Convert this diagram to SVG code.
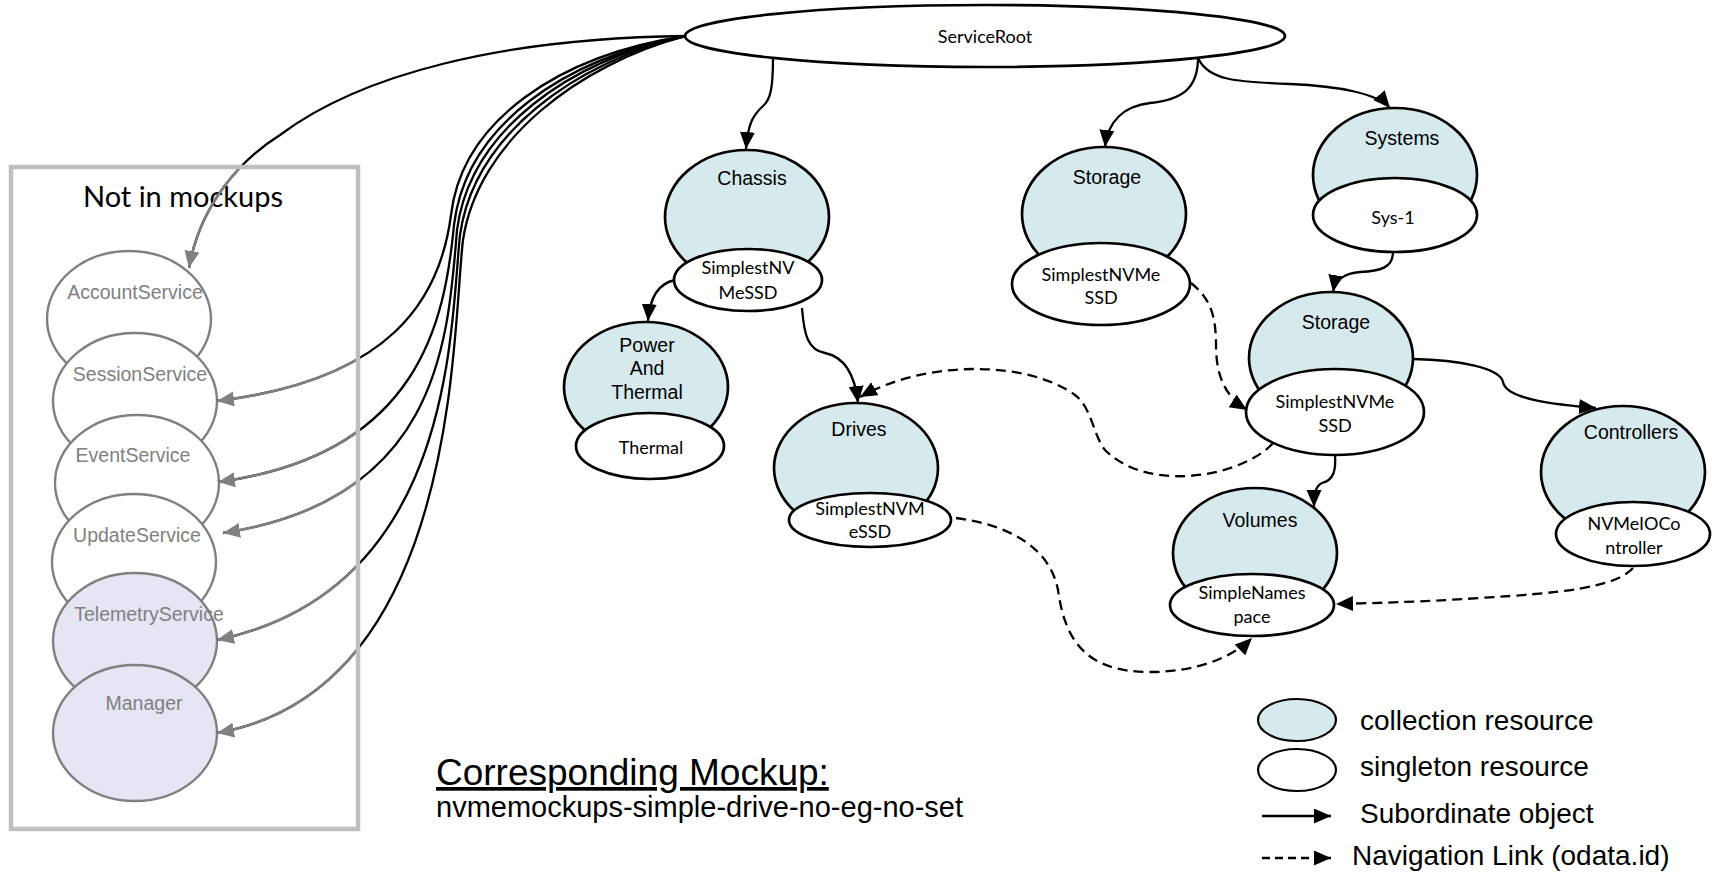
<svg xmlns="http://www.w3.org/2000/svg" width="1712" height="872" viewBox="0 0 1712 872">
<defs>
<style>
.col{fill:#d6eaed;stroke:#000;stroke-width:2.7}
.sgl{fill:#fff;stroke:#000;stroke-width:2.7}
.gw{fill:#fff;stroke:#808080;stroke-width:2.4}
.gl{fill:#e5e5f4;stroke:#808080;stroke-width:2.4}
.ta{font-family:"Liberation Sans",Arial,sans-serif;font-size:19.5px;fill:#000;text-anchor:middle}
.tg{font-family:"Liberation Sans",Arial,sans-serif;font-size:19.5px;fill:#808080;text-anchor:middle}
.tl{font-family:Lato,"Noto Sans",sans-serif;font-size:18px;fill:#000;text-anchor:middle}
.c{fill:none;stroke:#000;stroke-width:2.3}
.d{fill:none;stroke:#000;stroke-width:2.3;stroke-dasharray:10 6}
.g{fill:none;stroke:#808080;stroke-width:2.5}
.lg{font-family:"Liberation Sans",Arial,sans-serif;font-size:28px;fill:#000}
</style>
<marker id="ah" markerUnits="userSpaceOnUse" markerWidth="18" markerHeight="16" refX="17" refY="7.5" orient="auto"><path d="M0,0 L17,7.5 L0,15 z" fill="#000"/></marker>
<marker id="ahg" markerUnits="userSpaceOnUse" markerWidth="18" markerHeight="16" refX="17" refY="7.5" orient="auto"><path d="M0,0 L17,7.5 L0,15 z" fill="#808080"/></marker>
<clipPath id="inbox"><rect x="0" y="168" width="358" height="704"/></clipPath>
</defs>
<rect x="0" y="0" width="1712" height="872" fill="#fff"/>

<g id="box-title">
<text x="183" y="207" style="font-family:Lato,'Noto Sans',sans-serif;font-size:29px;fill:#000;text-anchor:middle">Not in mockups</text>
</g>

<g id="AccountService"><ellipse class="gw" cx="129" cy="319" rx="82" ry="68"/><text class="tg" x="135" y="299">AccountService</text></g>
<g id="SessionService"><ellipse class="gw" cx="135" cy="401" rx="82" ry="68"/><text class="tg" x="140" y="381">SessionService</text></g>
<g id="EventService"><ellipse class="gw" cx="137" cy="483" rx="82" ry="68"/><text class="tg" x="133" y="462">EventService</text></g>
<g id="UpdateService"><ellipse class="gw" cx="134" cy="562" rx="82" ry="68"/><text class="tg" x="137" y="542">UpdateService</text></g>
<g id="TelemetryService"><ellipse class="gl" cx="135" cy="641" rx="82" ry="68"/><text class="tg" x="149" y="621">TelemetryService</text></g>
<g id="Manager"><ellipse class="gl" cx="135" cy="733" rx="82" ry="68"/><text class="tg" x="144" y="710">Manager</text></g>

<g id="ServiceRoot"><ellipse class="sgl" cx="985" cy="36" rx="300" ry="31"/><text class="tl" x="985" y="43">ServiceRoot</text></g>

<g id="Chassis"><ellipse class="col" cx="747" cy="217" rx="82" ry="67"/><text class="ta" x="752" y="185">Chassis</text>
<ellipse class="sgl" cx="748" cy="280" rx="74" ry="31"/><text class="tl" x="748" y="274">SimplestNV</text><text class="tl" x="748" y="299">MeSSD</text></g>

<g id="PowerAndThermal"><ellipse class="col" cx="646" cy="387" rx="82" ry="65"/><text class="ta" x="647" y="352">Power</text><text class="ta" x="647" y="375">And</text><text class="ta" x="647" y="399">Thermal</text>
<ellipse class="sgl" cx="650" cy="446" rx="74" ry="33"/><text class="tl" x="651" y="454">Thermal</text></g>

<g id="Drives"><ellipse class="col" cx="856" cy="468" rx="82" ry="65"/><text class="ta" x="859" y="436">Drives</text>
<ellipse class="sgl" cx="870" cy="520" rx="81" ry="27"/><text class="tl" x="870" y="515">SimplestNVM</text><text class="tl" x="870" y="538">eSSD</text></g>

<g id="Storage"><ellipse class="col" cx="1104" cy="214" rx="82" ry="67"/><text class="ta" x="1107" y="184">Storage</text>
<ellipse class="sgl" cx="1101" cy="284" rx="89" ry="41"/><text class="tl" x="1101" y="281">SimplestNVMe</text><text class="tl" x="1101" y="304">SSD</text></g>

<g id="Systems"><ellipse class="col" cx="1395" cy="175" rx="82" ry="67"/><text class="ta" x="1402" y="145">Systems</text>
<ellipse class="sgl" cx="1395" cy="215" rx="82" ry="37"/><text class="tl" x="1393" y="224">Sys-1</text></g>

<g id="SystemStorage"><ellipse class="col" cx="1331" cy="358" rx="82" ry="66"/><text class="ta" x="1336" y="329">Storage</text>
<ellipse class="sgl" cx="1335" cy="412" rx="89" ry="43"/><text class="tl" x="1335" y="408">SimplestNVMe</text><text class="tl" x="1335" y="432">SSD</text></g>

<g id="Controllers"><ellipse class="col" cx="1623" cy="472" rx="82" ry="66"/><text class="ta" x="1631" y="439">Controllers</text>
<ellipse class="sgl" cx="1633" cy="534" rx="77" ry="32"/><text class="tl" x="1634" y="530">NVMeIOCo</text><text class="tl" x="1634" y="554">ntroller</text></g>

<g id="Volumes"><ellipse class="col" cx="1255" cy="553" rx="82" ry="65"/><text class="ta" x="1260" y="527">Volumes</text>
<ellipse class="sgl" cx="1252" cy="605" rx="82" ry="31"/><text class="tl" x="1252" y="599">SimpleNames</text><text class="tl" x="1252" y="623">pace</text></g>

<g id="connectors">
<path class="c" d="M686,36 C500,38 360,75 280,135 C240,160 200,205 189,268"/>
<path class="c" d="M686,36 C560,55 462,120 451,215 C440,300 390,380 217,401"/>
<path class="c" d="M686,36 C565,58 466,125 454,225 C445,320 420,455 218,482"/>
<path class="c" d="M686,36 C570,60 470,130 457,230 C448,340 440,500 223,533"/>
<path class="c" d="M686,36 C575,62 474,135 460,235 C450,330 455,590 217,640"/>
<path class="c" d="M686,36 C580,64 478,140 463,240 C452,330 460,690 217,733"/>
<g clip-path="url(#inbox)">
<path class="g" marker-end="url(#ahg)" d="M686,36 C500,38 360,75 280,135 C240,160 200,205 189,268"/>
<path class="g" marker-end="url(#ahg)" d="M686,36 C560,55 462,120 451,215 C440,300 390,380 217,401"/>
<path class="g" marker-end="url(#ahg)" d="M686,36 C565,58 466,125 454,225 C445,320 420,455 218,482"/>
<path class="g" marker-end="url(#ahg)" d="M686,36 C570,60 470,130 457,230 C448,340 440,500 223,533"/>
<path class="g" marker-end="url(#ahg)" d="M686,36 C575,62 474,135 460,235 C450,330 455,590 217,640"/>
<path class="g" marker-end="url(#ahg)" d="M686,36 C580,64 478,140 463,240 C452,330 460,690 217,733"/>
</g>
<path class="c" marker-end="url(#ah)" d="M773,58 C773,90 770,100 763,106 C752,116 748,125 746,149"/>
<path class="c" marker-end="url(#ah)" d="M1198,58 C1198,90 1180,100 1150,103 C1125,106 1108,120 1105,147"/>
<path class="c" marker-end="url(#ah)" d="M1198,58 C1208,80 1235,82 1290,84 C1340,86 1378,94 1390,108"/>
<path class="c" marker-end="url(#ah)" d="M675,280 C660,283 650,295 648,321"/>
<path class="c" marker-end="url(#ah)" d="M802,308 C804,335 808,350 825,353 C845,357 855,375 858,403"/>
<path class="c" marker-end="url(#ah)" d="M1393,252 C1393,268 1380,271 1360,272 C1345,273 1335,280 1333,292"/>
<path class="c" marker-end="url(#ah)" d="M1413,359 C1460,360 1500,368 1503,382 C1506,400 1560,405 1596,408"/>
<path class="c" marker-end="url(#ah)" d="M1335,455 C1336,470 1334,480 1322,483 C1315,486 1314,495 1314,507"/>
<path class="d" marker-end="url(#ah)" d="M1191,283 C1210,298 1216,315 1216,345 C1216,380 1228,398 1247,410"/>
<path class="d" marker-end="url(#ah)" d="M1273,443 C1245,475 1150,495 1105,450 C1093,435 1092,408 1075,395 C1030,362 930,358 860,397"/>
<path class="d" marker-end="url(#ah)" d="M956,518 C1010,525 1050,548 1058,590 C1065,640 1085,672 1150,672 C1195,672 1232,658 1252,638"/>
<path class="d" marker-end="url(#ah)" d="M1633,568 C1615,588 1560,593 1480,598 C1420,602 1375,603 1336,604"/>
</g>

<g id="not-in-mockups-box">
<rect x="11" y="167" width="347" height="662" fill="none" stroke="#bfbfbf" stroke-width="4.5"/>
</g>

<g id="legend">
<ellipse class="col" cx="1297" cy="720" rx="39" ry="21" style="stroke-width:2.2"/>
<ellipse class="sgl" cx="1297" cy="770" rx="39" ry="21" style="stroke-width:2.2"/>
<path class="c" marker-end="url(#ah)" d="M1262,816 L1331,816"/>
<path class="d" marker-end="url(#ah)" d="M1262,858 L1331,858" style="stroke-dasharray:8 5"/>
<text class="lg" x="1360" y="730">collection resource</text>
<text class="lg" x="1360" y="776">singleton resource</text>
<text class="lg" x="1360" y="823">Subordinate object</text>
<text class="lg" x="1352" y="865">Navigation Link (odata.id)</text>
</g>

<g id="mockup-caption">
<text x="436" y="785" style="font-family:'Liberation Sans',Arial,sans-serif;font-size:37px;fill:#000;text-decoration:underline">Corresponding Mockup:</text>
<text x="436" y="817" style="font-family:'Liberation Sans',Arial,sans-serif;font-size:29px;fill:#000">nvmemockups-simple-drive-no-eg-no-set</text>
</g>
</svg>
